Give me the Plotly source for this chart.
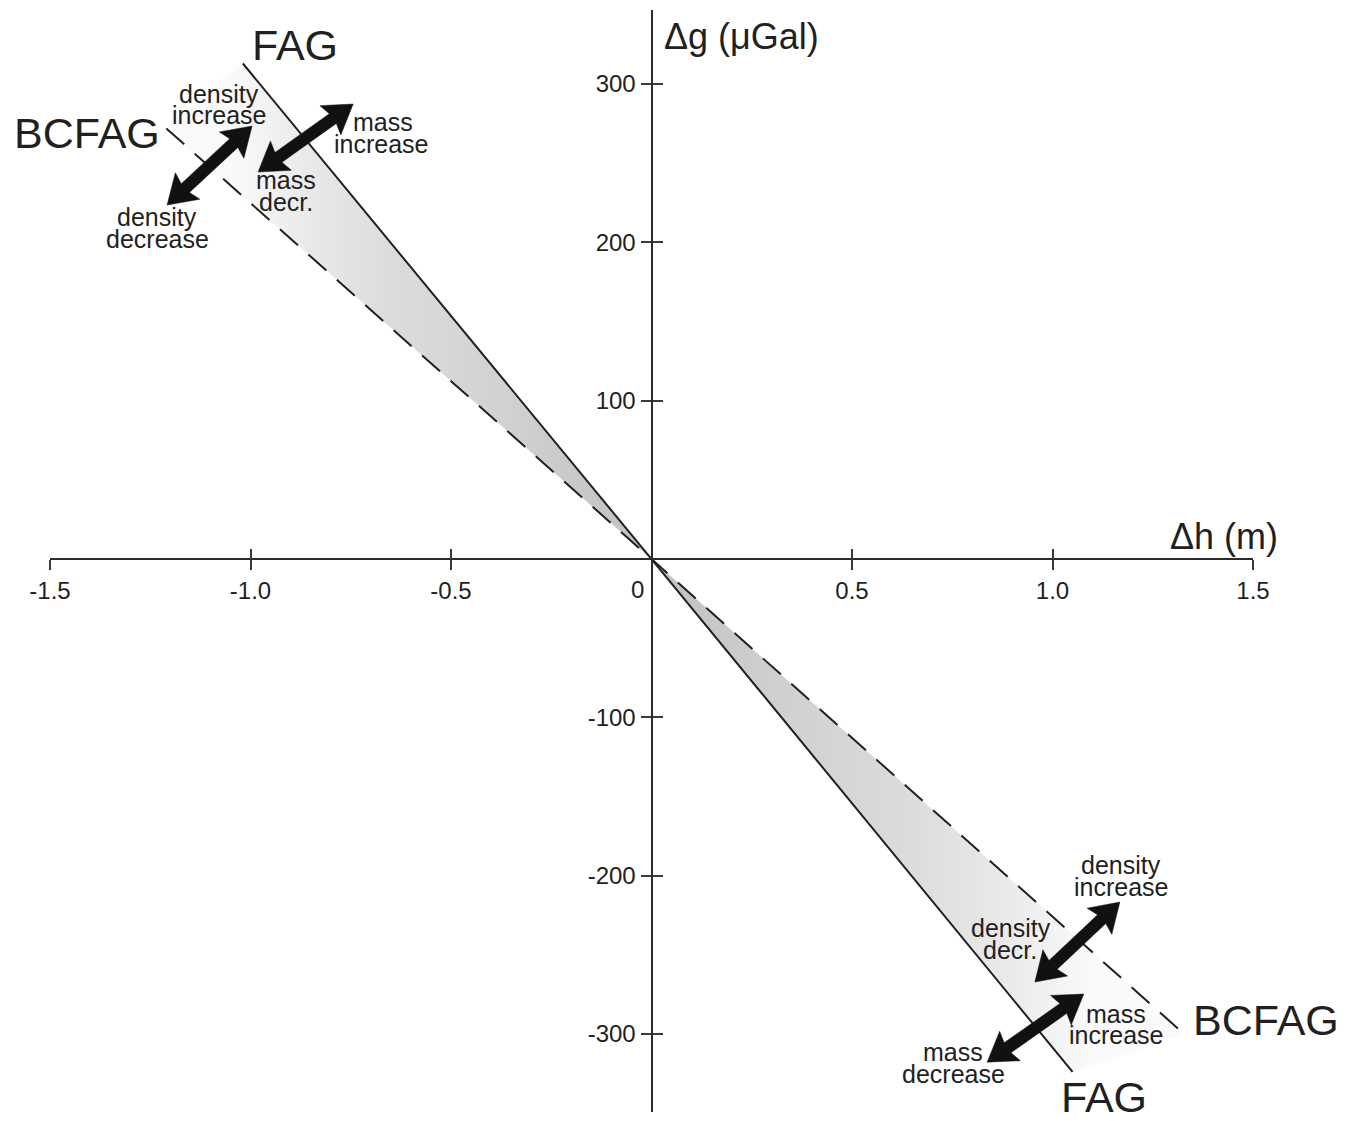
import numpy as np
import plotly.graph_objects as go

W, H = 1359, 1121
INK = "#231f20"
FONT = "Liberation Sans, Arial, Helvetica, sans-serif"

# Free-air gradient (FAG) and Bouguer-corrected free-air gradient (BCFAG)
fag_dh = [-1.019, 0.0, 1.050]
fag_dg = [313, 0, -324]
bcfag_dh = [-1.210, 0.0, 1.328]
bcfag_dg = [272, 0, -300]

# Shaded wedges between the two gradients
wedge_up_dh = [0.0, -1.019, -1.210, 0.0]
wedge_up_dg = [0, 313, 272, 0]
wedge_dn_dh = [0.0, 1.050, 1.328, 0.0]
wedge_dn_dg = [0, -324, -300, 0]

# Axis ticks
x_ticks = [-1.5, -1.0, -0.5, 0.5, 1.0, 1.5]
x_ticktext = ["-1.5", "-1.0", "-0.5", "0.5", "1.0", "1.5"]
y_ticks = [-300, -200, -100, 100, 200, 300]
y_ticktext = ["-300", "-200", "-100", "100", "200", "300"]

# Double-headed arrows: one tip at (start), the other at (end)
arrow_start_dh = [-1.208, -0.981, 0.956, 0.837]
arrow_start_dg = [223.6, 244.5, -267.2, -317.8]
arrow_end_dh = [-0.996, -0.744, 1.168, 1.078]
arrow_end_dg = [273.5, 287.4, -216.7, -274.8]

# Plot geometry
x_range = [-1.5, 1.5]
y_range = [-349.3, 346.8]
xdom = [50 / W, 1253 / W]
ydom = [1 - 1112 / H, 1 - 10 / H]
x_zero = xdom[0] + (0 - x_range[0]) / (x_range[1] - x_range[0]) * (xdom[1] - xdom[0])
y_zero = ydom[0] + (0 - y_range[0]) / (y_range[1] - y_range[0]) * (ydom[1] - ydom[0])

# pixels per data unit, used to keep arrow shapes undistorted
px_per_dh = (xdom[1] - xdom[0]) * W / (x_range[1] - x_range[0])
px_per_dg = (ydom[1] - ydom[0]) * H / (y_range[1] - y_range[0])


def double_arrow(h0, g0, h1, g1, shaft=12.0, head_w=36.0, head_l=25.0, barb=3.0):
    """Outline of a thick double-headed arrow between two tips, in data units."""
    p0 = np.array([h0 * px_per_dh, g0 * px_per_dg])
    p1 = np.array([h1 * px_per_dh, g1 * px_per_dg])
    d = p1 - p0
    L = np.hypot(*d)
    u = d / L
    n = np.array([-u[1], u[0]])
    local = [
        (0, 0), (head_l + barb, head_w / 2), (head_l, shaft / 2),
        (L - head_l, shaft / 2), (L - head_l - barb, head_w / 2), (L, 0),
        (L - head_l - barb, -head_w / 2), (L - head_l, -shaft / 2),
        (head_l, -shaft / 2), (head_l + barb, -head_w / 2), (0, 0),
    ]
    pts = np.array([p0 + a * u + c * n for a, c in local])
    return pts[:, 0] / px_per_dh, pts[:, 1] / px_per_dg


fig = go.Figure()

# grey fill fading out from the origin along each wedge
shade_up = dict(type="horizontal", start=-1.05, stop=0.0,
                colorscale=[[0, "#fafafa"], [0.19, "#e9e9e9"], [0.38, "#dcdcdc"],
                            [0.71, "#cfcfcf"], [1, "#c0c0c0"]])
shade_dn = dict(type="horizontal", start=0.0, stop=1.1,
                colorscale=[[0, "#c0c0c0"], [0.27, "#cfcfcf"], [0.59, "#dcdcdc"],
                            [0.82, "#ebebeb"], [1, "#fafafa"]])

fig.add_trace(go.Scatter(x=wedge_up_dh, y=wedge_up_dg, mode="none", fill="toself",
                         fillgradient=shade_up, showlegend=False, hoverinfo="skip"))
fig.add_trace(go.Scatter(x=wedge_dn_dh, y=wedge_dn_dg, mode="none", fill="toself",
                         fillgradient=shade_dn, showlegend=False, hoverinfo="skip"))

fig.add_trace(go.Scatter(x=bcfag_dh, y=bcfag_dg, mode="lines",
                         line=dict(color=INK, width=2, dash="24px,14px"),
                         showlegend=False, hoverinfo="skip"))
fig.add_trace(go.Scatter(x=fag_dh, y=fag_dg, mode="lines",
                         line=dict(color=INK, width=2),
                         showlegend=False, hoverinfo="skip"))

# thick double-headed arrows
for h0, g0, h1, g1 in zip(arrow_start_dh, arrow_start_dg, arrow_end_dh, arrow_end_dg):
    ax_, ay_ = double_arrow(h0, g0, h1, g1)
    fig.add_trace(go.Scatter(x=ax_, y=ay_, mode="lines", fill="toself",
                             fillcolor="#111111", line=dict(color="#111111", width=0.5),
                             showlegend=False, hoverinfo="skip"))

# empty trace so the overlaid tick-only axes are rendered
fig.add_trace(go.Scatter(x=[], y=[], xaxis="x2", yaxis="y2", showlegend=False, hoverinfo="skip"))

tick_font = dict(family=FONT, size=24, color=INK)
common = dict(showgrid=False, zeroline=False, fixedrange=True, automargin=False,
              ticklen=10, tickwidth=1.5, tickcolor="#3a3a3a")

fig.update_layout(
    width=W, height=H,
    margin=dict(l=0, r=0, t=0, b=0, pad=0, autoexpand=False),
    paper_bgcolor="white", plot_bgcolor="white",
    showlegend=False,
    xaxis=dict(domain=xdom, range=x_range, anchor="free", position=y_zero,
               showline=True, linecolor="#2b2b2b", linewidth=2, ticks="outside",
               tickvals=x_ticks, ticktext=x_ticktext, tickfont=tick_font, **common),
    yaxis=dict(domain=ydom, range=y_range, anchor="free", position=x_zero,
               showline=True, linecolor="#2b2b2b", linewidth=2, ticks="outside",
               tickvals=y_ticks, ticktext=y_ticktext, tickfont=tick_font, **common),
    xaxis2=dict(overlaying="x", range=x_range, anchor="free", position=y_zero,
                showline=False, ticks="inside", tickvals=x_ticks,
                showticklabels=False, **common),
    yaxis2=dict(overlaying="y", range=y_range, anchor="free", position=x_zero,
                showline=False, ticks="inside", tickvals=y_ticks,
                showticklabels=False, **common),
)

annotations = []


def label(text, px, py, size):
    return dict(text=text, x=px / W, y=1 - py / H, xref="paper", yref="paper",
                showarrow=False, xanchor="center", yanchor="middle",
                font=dict(family=FONT, size=size, color=INK))


# axis titles and origin label
annotations += [
    label("\u0394g (\u03bcGal)", 741, 37, 36),
    label("\u0394h (m)", 1224, 536, 36),
    label("0", 637, 589, 24),
]

# gradient names
annotations += [
    label("FAG", 295, 45, 43),
    label("BCFAG", 87, 133, 43),
    label("BCFAG", 1266, 1020, 43),
    label("FAG", 1104, 1097, 43),
]

# arrow captions, one line each
small = 25
for text, px, py in [
    ("density", 219, 94), ("increase", 219, 115),
    ("mass", 383, 122), ("increase", 382, 144),
    ("mass", 286, 180), ("decr.", 286, 202),
    ("density", 157, 217), ("decrease", 157, 239),
    ("density", 1121, 865), ("increase", 1121, 887),
    ("density", 1011, 928), ("decr.", 1010, 950),
    ("mass", 1116, 1014), ("increase", 1116, 1035),
    ("mass", 953, 1052), ("decrease", 953, 1074),
]:
    annotations.append(label(text, px, py, small))

fig.update_layout(annotations=annotations)

fig.write_html("out.html")
